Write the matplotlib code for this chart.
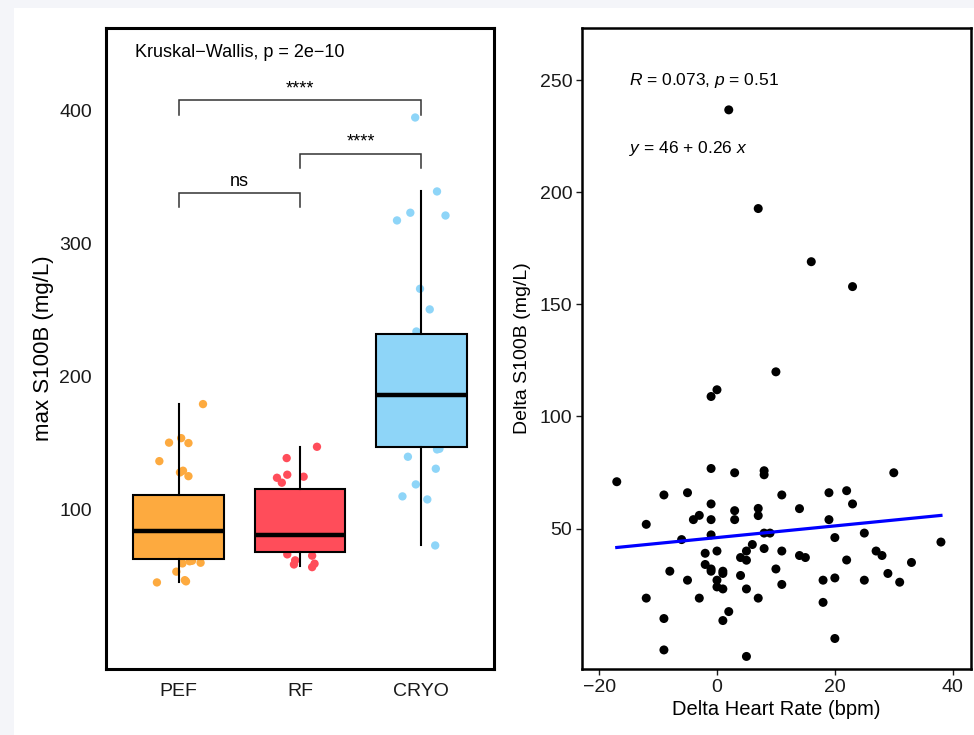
import numpy as np
import matplotlib.pyplot as plt
from matplotlib.patches import Rectangle

plt.rcParams['font.family'] = ['Liberation Sans', 'DejaVu Sans']
plt.rcParams['mathtext.fontset'] = 'custom'
plt.rcParams['mathtext.rm'] = 'Liberation Sans'
plt.rcParams['mathtext.it'] = 'Liberation Sans:italic'

# ---- left panel: max S100B by group ----
groups = ['PEF', 'RF', 'CRYO']
colors = ['#FDAA3F', '#FF4D5A', '#8ED5F8']

box_q1 = [62.6, 67.9, 146.6]
box_med = [83.5, 81.0, 185.9]
box_q3 = [110.5, 115.6, 232.1]
box_lo = [45.3, 57.1, 72.9]
box_hi = [179.5, 146.8, 339.1]

pef_vals = [179.2, 153.6, 150.2, 149.9, 136.3, 129.1, 127.8, 125.0,
            61.4, 61.0, 59.9, 59.4, 53.2, 46.8, 45.9, 45.1]
pef_jit = [0.20, 0.02, -0.08, 0.08, -0.16, 0.035, 0.01, 0.08,
           0.11, 0.09, 0.18, 0.03, -0.02, 0.05, 0.06, -0.18]
rf_vals = [147.1, 138.6, 126.1, 124.6, 123.8, 120.1,
           66.2, 65.2, 61.7, 58.6, 59.2, 56.6]
rf_jit = [0.14, -0.11, -0.105, 0.03, -0.19, -0.15,
          -0.105, 0.10, -0.04, -0.05, 0.12, 0.10]
cryo_vals = [394.7, 339.1, 323.1, 317.3, 321.0, 265.9, 250.4, 233.8,
             145.1, 145.6, 139.6, 130.6, 118.8, 109.8, 107.5, 72.9]
cryo_jit = [-0.05, 0.13, -0.09, -0.20, 0.20, -0.01, 0.07, -0.04,
            0.13, 0.15, -0.11, 0.12, -0.045, -0.155, 0.05, 0.115]

comparisons = [(1, 3), (2, 3), (1, 2)]
comp_labels = ['****', '****', 'ns']
comp_y = [407.5, 367.4, 337.8]
kw_text = 'Kruskal\u2212Wallis, p = 2e\u221210'

# ---- right panel: delta S100B vs delta heart rate ----
hr = [2, 7, 16, 23, 10, 0, -1, -1, 3, 8, 8, 30, -17, -9, -5, 11, 19, 22,
      -1, 23, 7, 14, 3, 7, -3, -4, -1, 3, 19, -12, 8, 9, 25, -1, -6, 20,
      38, 6, 8, 0, 5, 11, 27, -2, 28, 4, 5, 14, 15, 22, 33, -2, -1, 10,
      -8, -1, 1, 1, 29, 4, 20, -5, 0, 18, 25, 31, 11, 0, 1, 5, -12, -3,
      7, 18, 2, -9, 1, 20, -9, 5]
s100 = [236.7, 192.7, 169.0, 157.9, 119.9, 111.9, 108.9, 76.8, 74.9, 75.8,
        74.0, 74.9, 70.9, 65.0, 66.0, 65.0, 66.0, 66.9, 61.0, 61.0, 59.0,
        58.9, 58.0, 55.8, 55.9, 54.0, 54.0, 54.0, 54.0, 51.9, 48.0, 48.0,
        48.0, 47.2, 45.1, 46.0, 44.0, 42.9, 41.1, 40.0, 40.0, 40.0, 40.0,
        39.0, 38.0, 37.1, 35.9, 38.0, 37.1, 36.0, 34.9, 34.0, 32.0, 32.0,
        31.0, 31.0, 31.0, 30.0, 30.0, 29.1, 28.0, 27.0, 27.0, 27.0, 27.0,
        26.1, 25.1, 24.0, 23.1, 23.1, 19.0, 19.0, 19.0, 17.1, 13.0, 9.9,
        9.0, 1.0, -4.1, -7.0]
fit_intercept = 46
fit_slope = 0.26
r_text = '$R$ = 0.073, $p$ = 0.51'
eq_text = '$y$ = 46 + 0.26 $x$'

fig = plt.figure(figsize=(9.74, 7.35), dpi=100, facecolor='#f4f5f9')
fig.patches.append(Rectangle((14 / 974, 0), 1, 727 / 735, transform=fig.transFigure,
                             facecolor='white', edgecolor='none', zorder=-10))

ax1 = fig.add_axes([106 / 974, 66 / 735, 388 / 974, 641 / 735])
ax2 = fig.add_axes([582 / 974, 66 / 735, 389 / 974, 641 / 735])

# boxes
for i in range(3):
    st = dict(med=box_med[i], q1=box_q1[i], q3=box_q3[i],
              whislo=box_lo[i], whishi=box_hi[i], fliers=[])
    ax1.bxp([st], positions=[i + 1], widths=0.75, patch_artist=True,
            showcaps=False, zorder=3,
            boxprops=dict(facecolor=colors[i], edgecolor='black', linewidth=1.5),
            medianprops=dict(color='black', linewidth=3.2, solid_capstyle='butt'),
            whiskerprops=dict(color='black', linewidth=1.5))

pts = [(pef_vals, pef_jit), (rf_vals, rf_jit), (cryo_vals, cryo_jit)]
for i, (vals, jit) in enumerate(pts):
    ax1.scatter(np.array(jit) + i + 1, vals, s=36, color=colors[i],
                edgecolors='none', zorder=1)

# significance brackets
tick = 10.7
for (a, b), lab, y in zip(comparisons, comp_labels, comp_y):
    ax1.plot([a, a, b, b], [y - tick, y, y, y - tick], color='#333333',
             lw=1.1, solid_joinstyle='miter')
    ax1.text((a + b) / 2, y + 5.5, lab, ha='center', va='baseline', fontsize=13)

ax1.text(0.64, 443.8, kw_text, ha='left', va='center', fontsize=13)

ax1.set_xlim(0.4, 3.6)
ax1.set_ylim(-20, 462)
ax1.set_xticks([1, 2, 3])
ax1.set_xticklabels(groups)
ax1.set_yticks([100, 200, 300, 400])
ax1.tick_params(length=0, labelsize=14, pad=10, colors='#1a1a1a')
ax1.set_ylabel('max S100B (mg/L)', fontsize=16, labelpad=3.5)
for sp in ax1.spines.values():
    sp.set_linewidth(2.2)

# scatter
ax2.scatter(hr, s100, s=42, color='black', edgecolors='none', zorder=2)
xs = np.array([min(hr), max(hr)])
ax2.plot(xs, fit_intercept + fit_slope * xs, color='#0000ff', lw=2.3, zorder=3)
ax2.text(-14.9, 249.9, r_text, ha='left', va='center', fontsize=12.5)
ax2.text(-14.9, 219.5, eq_text, ha='left', va='center', fontsize=12.5)

ax2.set_xlim(-22.9, 43.1)
ax2.set_ylim(-12.6, 273.2)
ax2.set_xticks([-20, 0, 20, 40])
ax2.set_yticks([50, 100, 150, 200, 250])
ax2.tick_params(direction='out', length=4, width=1, labelsize=14, pad=3, colors='#1a1a1a')
ax2.set_xlabel('Delta Heart Rate (bpm)', fontsize=14.5, labelpad=3)
ax2.set_ylabel('Delta S100B (mg/L)', fontsize=14, labelpad=6)
for sp in ax2.spines.values():
    sp.set_linewidth(1.8)

fig.savefig('out.png', dpi=100, facecolor=fig.get_facecolor())
